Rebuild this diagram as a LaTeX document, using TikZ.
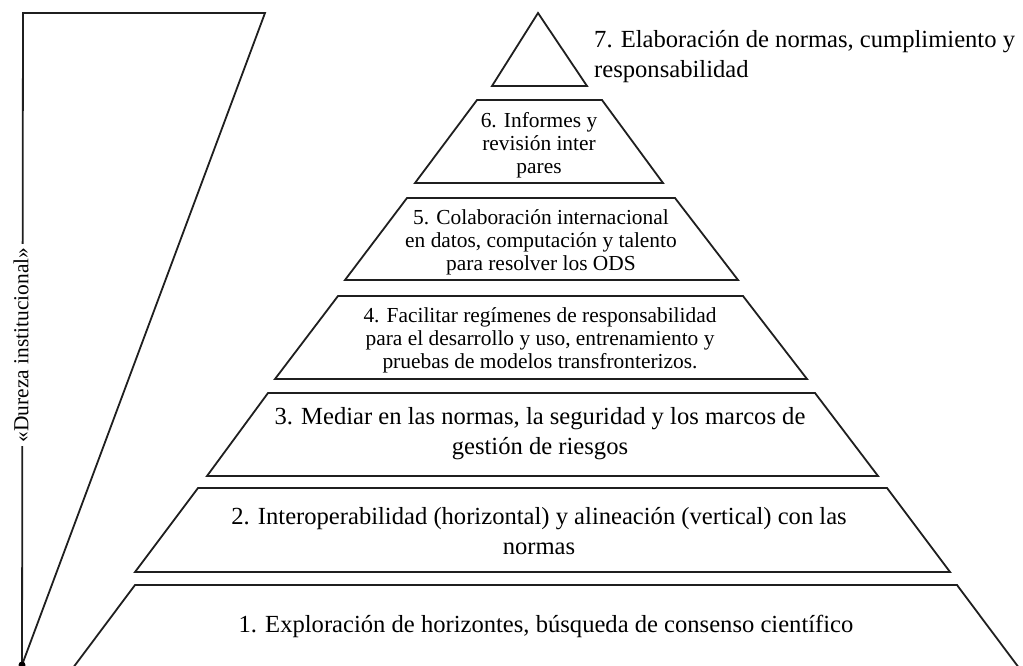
\documentclass[tikz,border=0pt]{standalone}
\usepackage{fontspec}
\setmainfont{Liberation Serif}
\begin{document}
\begin{tikzpicture}[x=1pt,y=-1pt,
  layer/.style={draw=black!88, line width=1.8pt, line join=miter},
  bigtxt/.style={font=\fontsize{24.6}{30}\selectfont, align=center, inner sep=0pt},
  midtxt/.style={font=\fontsize{21.4}{23}\selectfont, align=center, inner sep=0pt}]
\useasboundingbox (0,0) rectangle (1023,665);
\begin{scope}
\clip (0,0) rectangle (1023,665);
% left wedge
\coordinate (wtl) at (23,13);
\coordinate (wtr) at (265,13);
\coordinate (wb) at (22,665);
\draw[layer] (wb) -- (wtl) -- (wtr) -- (wb);
\fill[black] (wb) circle (3.5);
\node[midtxt, rotate=90, fill=white, inner xsep=4pt, inner ysep=2pt] (hard) at (21,345) {«Dureza institucional»};
% layers
\draw[layer] (538,13) -- (587,86) -- (492,86) -- cycle;
\draw[layer] (477,100) -- (602,100) -- (663,183) -- (415,183) -- cycle;
\draw[layer] (407,198) -- (675,198) -- (738,280) -- (345,280) -- cycle;
\draw[layer] (338,296) -- (743,296) -- (807,379) -- (275,379) -- cycle;
\draw[layer] (268,393) -- (815,393) -- (878,476) -- (207,476) -- cycle;
\draw[layer] (198,488) -- (887,488) -- (950,572) -- (135,572) -- cycle;
\draw[layer] (49,700) -- (135,585) -- (957,585) -- (1043,700);
\end{scope}
% texts
\node[bigtxt, align=left, anchor=west] (t7) at (594,57) {7. Elaboración de normas, cumplimiento y\\responsabilidad};
\node[midtxt] (t6) at (539,145) {6. Informes y\\revisión inter\\pares};
\node[midtxt] (t5) at (541,242) {5. Colaboración internacional\\en datos, computación y talento\\para resolver los ODS};
\node[midtxt] (t4) at (540,340) {4. Facilitar regímenes de responsabilidad\\para el desarrollo y uso, entrenamiento y\\pruebas de modelos transfronterizos.};
\node[bigtxt] (t3) at (540,434) {3. Mediar en las normas, la seguridad y los marcos de\\gestión de riesgos};
\node[bigtxt] (t2) at (539,531) {2. Interoperabilidad (horizontal) y alineación (vertical) con las\\normas};
\node[bigtxt] (t1) at (546,626) {1. Exploración de horizontes, búsqueda de consenso científico};
\end{tikzpicture}
\end{document}
